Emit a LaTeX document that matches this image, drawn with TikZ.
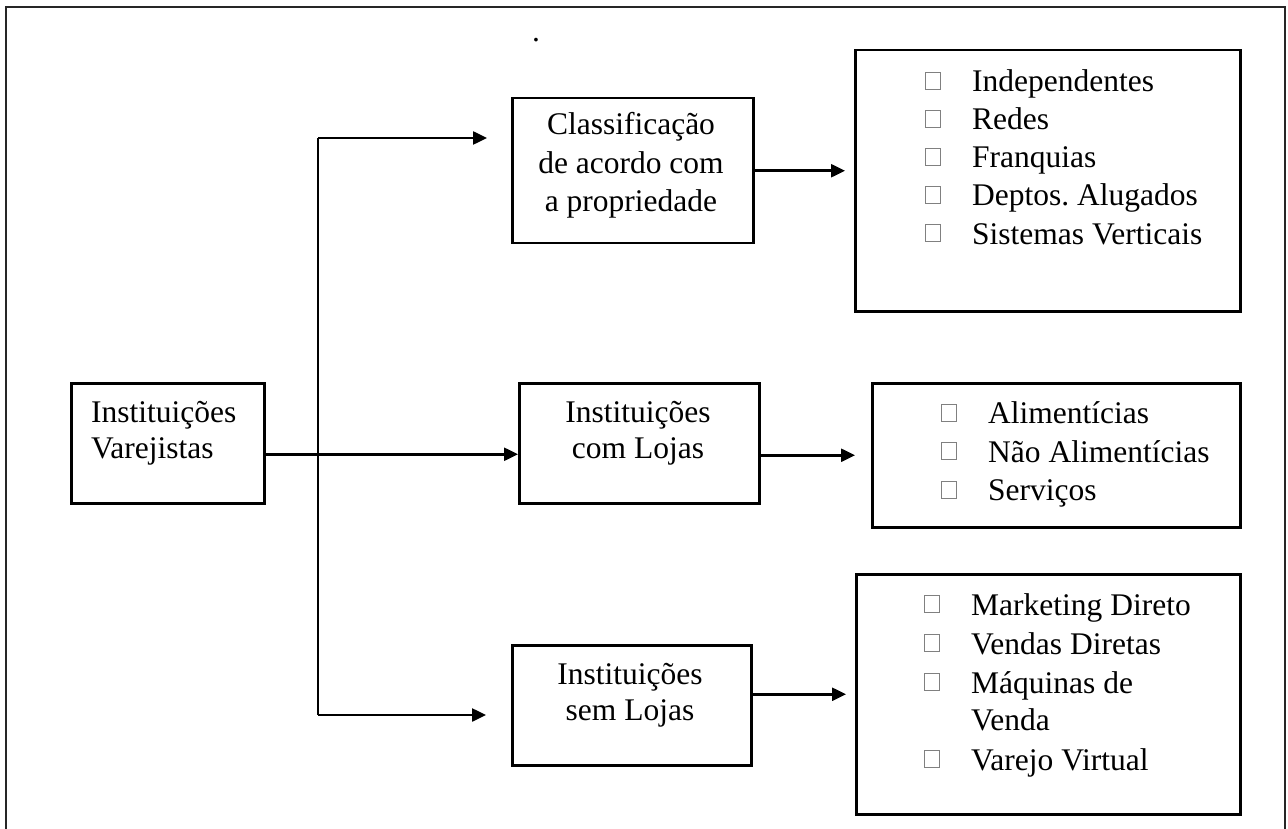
\documentclass[tikz,border=0pt]{standalone}
\usepackage{fontspec}
\setmainfont{Liberation Serif}
\usepackage{tikz}
\usetikzlibrary{arrows.meta, calc, positioning}
\frenchspacing

\tikzset{
  box/.style={draw, line width=2.5pt, anchor=north west, inner sep=0pt},
  txt/.style={anchor=base, inner sep=0pt},
  itm/.style={anchor=base west, inner sep=0pt},
  chk/.style={draw=black!50, line width=0.8pt, minimum width=15pt, minimum height=17pt, inner sep=0pt, anchor=south west},
  arr/.style={line width=2.5pt, -{Triangle[length=14pt,width=13pt]}}
}

\begin{document}
\begin{tikzpicture}[x=1pt, y=-1pt, font=\fontsize{31.5}{38}\selectfont]
                    \useasboundingbox (0, 0) rectangle (1288, 829);

                    % moldura
                    \draw[line width=2.5pt, black!85] (6, 829) -- (6, 7) -- (1285, 7) -- (1285, 829);
                    \node[txt] (ponto) at (536, 42) {.};

                    % caixas
                    \node[box, minimum width=193pt, minimum height=120pt] (var) at (70, 382) {};
                    \node[box, minimum width=241pt, minimum height=145pt] (cls) at (511, 97) {};
                    \node[box, minimum width=240pt, minimum height=120pt] (com) at (518, 382) {};
                    \node[box, minimum width=239pt, minimum height=120pt] (sem) at (511, 644) {};
                    \node[box, minimum width=385pt, minimum height=261pt] (prop) at (854, 49) {};
                    \node[box, minimum width=368pt, minimum height=144pt] (alim) at (871, 382) {};
                    \node[box, minimum width=384pt, minimum height=240pt] (mkt) at (855, 573) {};

                    % textos das caixas
                    \node[itm] (var1) at (91, 422) {Instituições};
                    \node[itm] (var2) at (91, 458) {Varejistas};
                    \node[txt] (cls1) at (631, 135) {Classificação};
                    \node[txt] (cls2) at (631, 174) {de acordo com};
                    \node[txt] (cls3) at (631, 212) {a propriedade};
                    \node[txt] (com1) at (638, 422) {Instituições};
                    \node[txt] (com2) at (638, 458) {com Lojas};
                    \node[txt] (sem1) at (630, 684) {Instituições};
                    \node[txt] (sem2) at (630, 720) {sem Lojas};

                    % listas
                    \foreach \t [count=\i] in {Independentes, Redes, Franquias, Deptos. Alugados, Sistemas Verticais} {
                        \node[itm] (prop\i) at (972, {54 + 38*\i}) {\t};
                        \node[chk] (propc\i) at ([xshift=-47pt, yshift=2pt]prop\i.base west) {};
                    }
                    \foreach \t [count=\i] in {Alimentícias, Não Alimentícias, Serviços} {
                        \node[itm] (alim\i) at (988, {385 + 38.5*\i}) {\t};
                        \node[chk] (alimc\i) at ([xshift=-47pt, yshift=2pt]alim\i.base west) {};
                    }
                    \node[itm] (mkt1) at (971, 615) {Marketing Direto};
                    \node[itm] (mkt2) at (971, 654) {Vendas Diretas};
                    \node[itm] (mkt3) at (971, 693) {Máquinas de};
                    \node[itm] (mkt3b) at (971, 730) {Venda};
                    \node[itm] (mkt4) at (971, 770) {Varejo Virtual};
                    \foreach \i in {1, 2, 3, 4}
                        \node[chk] (mktc\i) at ([xshift=-47pt, yshift=2pt]mkt\i.base west) {};

                    % ligacoes
                    \coordinate (bt) at (318, 138);
                    \coordinate (bb) at (318, 715);
                    \draw[line width=2.5pt] (bt) -- (bb);
                    \draw[arr, shorten >=24pt] (bt) -- (bt -| cls.west);
                    \draw[arr, shorten >=25pt] (bb) -- (bb -| sem.west);
                    \draw[arr] ([yshift=-11pt]var.east) -- ([yshift=-11pt]com.west);
                    \draw[arr, shorten >=9pt] (cls.east) -- (prop.west |- cls.east);
                    \draw[arr, shorten >=16pt] (com.east |- alim.west) -- (alim.west);
                    \draw[arr, shorten >=9pt] (sem.east |- mkt.west) -- (mkt.west);
\end{tikzpicture}
\end{document}
